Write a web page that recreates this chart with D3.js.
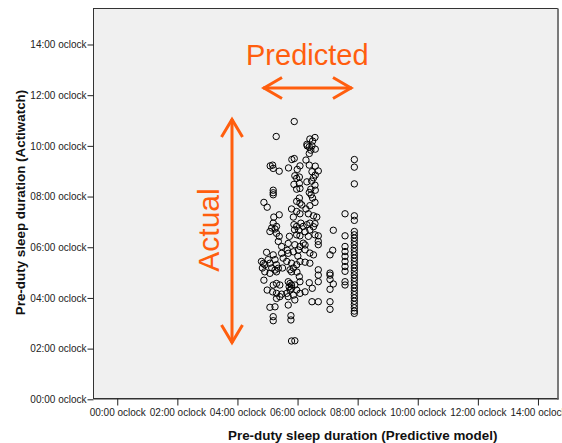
<!DOCTYPE html>
<html>
<head>
<meta charset="utf-8">
<script src="https://d3js.org/d3.v7.min.js"></script>
<style>
  body { margin: 0; background: #fff; }
  svg { display: block; font-family: "Liberation Sans", Arial, sans-serif; }
</style>
</head>
<body>
<div id="wrapper"></div>
<script>
// hours
var predicted = [
  5.89,5.29,6.41,6.58,6.50,6.31,6.39,6.48,6.59,6.44,6.32,6.39,5.81,5.89,6.28,
  5.09,5.17,5.19,5.39,5.70,6.08,6.39,6.59,5.99,6.48,6.69,6.59,6.53,5.91,6.06,5.97,
  6.31,6.47,5.88,6.06,6.58,6.08,5.97,6.44,6.59,6.39,5.19,5.19,7.89,7.89,7.89,
  5.19,4.88,4.99,6.06,6.08,5.97,6.14,6.45,6.50,6.58,6.41,5.80,5.97,6.08,5.86,
  6.28,6.36,6.53,6.64,5.21,5.39,5.19,5.30,5.14,5.08,5.25,5.88,5.97,6.11,6.19,6.31,6.41,6.58,
  5.90,6.04,6.08,5.97,5.73,6.36,6.58,6.69,6.69,6.69,6.41,6.53,5.39,5.36,5.47,
  5.91,6.08,6.19,6.25,6.41,6.53,4.97,5.19,5.02,4.80,4.91,5.08,5.25,5.30,5.14,
  5.52,5.64,5.80,5.97,6.08,5.75,5.86,6.41,6.69,7.08,7.17,7.19,7.08,
  7.58,7.58,7.58,7.58,7.58,7.58,7.58,7.58,7.58,7.58,
  7.89,7.89,7.89,7.89,7.89,7.89,7.89,7.89,7.89,7.89,7.89,7.89,7.89,7.89,
  7.89,7.89,7.89,7.89,7.89,7.89,7.89,7.89,7.89,7.89,7.89,7.89,7.89,7.89,
  4.88,4.91,5.08,5.30,5.19,5.30,5.41,4.99,5.17,5.30,5.47,5.30,5.69,5.80,5.75,5.64,
  5.86,5.91,5.69,5.80,5.75,5.72,6.06,6.08,5.97,6.08,5.80,6.39,6.49,6.69,6.69,
  7.08,7.08,7.19,7.08,6.48,6.69,7.08,7.08,5.08,5.19,5.19,5.78,5.78,5.80,5.91,
  4.86,5.66,6.01,5.50,6.25,5.98,4.83,
  5.25,5.36,5.91,6.25,5.41,5.69,5.25,5.30,6.25,5.69,6.25,5.47,5.69,5.86,6.03
];
var actual = [
  10.96,10.37,10.27,10.33,10.19,10.06,9.96,10.00,9.87,9.83,10.00,9.70,9.46,9.50,9.44,
  9.21,9.24,9.11,9.00,9.13,9.21,9.24,9.20,9.07,8.98,9.01,8.85,8.74,8.82,8.77,8.72,
  8.58,8.61,8.48,8.52,8.45,8.32,8.29,8.29,8.25,8.16,8.25,8.15,9.46,9.16,8.50,
  8.07,7.77,7.58,7.94,7.74,7.81,7.67,8.07,7.94,7.77,7.64,7.51,7.41,7.32,7.19,
  7.51,7.32,7.24,7.19,7.19,7.28,6.95,6.82,6.76,6.62,6.72,6.89,6.82,6.95,6.82,6.89,6.95,6.93,
  6.69,6.67,6.45,6.49,6.43,6.43,6.49,6.45,6.23,6.10,6.68,6.81,6.43,6.23,6.03,
  6.10,6.03,6.16,5.90,5.77,5.70,5.80,5.70,5.51,5.44,5.31,5.37,5.51,5.31,5.18,
  5.57,5.44,5.37,5.31,5.44,5.11,5.18,5.37,5.11,5.70,5.88,6.67,4.98,
  7.32,6.45,6.03,5.83,5.64,5.44,5.24,5.05,4.64,4.51,
  7.24,7.06,6.62,6.49,6.36,6.23,6.10,5.96,5.83,5.70,5.57,5.44,5.31,5.18,
  5.05,4.91,4.78,4.65,4.52,4.39,4.26,4.13,4.00,3.87,3.74,3.61,3.48,3.39,
  4.70,5.03,4.97,5.03,4.51,4.57,4.51,4.31,4.24,4.18,4.15,3.98,4.64,4.51,4.31,4.18,
  4.11,3.92,3.72,4.38,4.57,4.44,4.84,4.64,4.31,4.18,5.03,4.60,4.38,4.90,4.64,
  4.90,4.73,4.55,4.34,3.85,3.85,3.85,3.55,3.63,3.26,3.10,3.30,3.13,2.30,2.31,
  5.36,5.88,5.65,5.18,5.41,5.02,5.18,
  5.10,5.17,4.51,4.24,4.05,4.05,3.65,6.55,6.61,6.15,6.09,5.76,5.76,5.82,5.89
];
var tickHours = [0, 2, 4, 6, 8, 10, 12, 14];
var xTitle = "Pre-duty sleep duration (Predictive model)";
var yTitle = "Pre-duty sleep duration (Actiwatch)";

var orange = "#ff5e0e";
var width = 562, height = 443;
var frame = { left: 93.5, top: 8.5, right: 557.5, bottom: 398.5 };

var dataset = predicted.map(function (d, i) { return { x: d, y: actual[i] }; });

var svg = d3.select("#wrapper").append("svg")
  .attr("width", width)
  .attr("height", height);

var xScale = d3.scaleLinear()
  .domain([-0.79, 14.65])
  .range([frame.left, frame.right]);
var yScale = d3.scaleLinear()
  .domain([0, 15.42])
  .range([399.3, 8.5]);

function fmt(h) { return (h < 10 ? "0" : "") + h + ":00 oclock"; }

// plot frame
svg.append("rect")
  .attr("x", frame.left).attr("y", frame.top)
  .attr("width", frame.right - frame.left)
  .attr("height", frame.bottom - frame.top)
  .attr("fill", "#f0f0f0")
  .attr("stroke", "#333")
  .attr("stroke-width", 1);
svg.append("line")
  .attr("x1", frame.right + 0.5).attr("x2", frame.right + 0.5)
  .attr("y1", frame.top).attr("y2", frame.bottom + 1)
  .attr("stroke", "#7a7a7a").attr("stroke-width", 2);
svg.append("line")
  .attr("x1", frame.left).attr("x2", frame.right + 1)
  .attr("y1", frame.bottom + 0.5).attr("y2", frame.bottom + 0.5)
  .attr("stroke", "#333").attr("stroke-width", 1);

// axes
var yAxis = svg.append("g")
  .attr("transform", "translate(" + frame.left + ",0)")
  .call(d3.axisLeft(yScale).tickValues(tickHours).tickFormat(fmt).tickSize(6).tickPadding(1));
var xAxis = svg.append("g")
  .attr("transform", "translate(0," + frame.bottom + ")")
  .call(d3.axisBottom(xScale).tickValues(tickHours).tickFormat(fmt).tickSize(7).tickPadding(3));
[xAxis, yAxis].forEach(function (a) {
  a.select(".domain").remove();
  a.selectAll(".tick line").attr("stroke", "#222");
  a.selectAll(".tick text")
    .attr("fill", "#222")
    .style("font-size", "10px")
    .style("font-family", "'Liberation Sans', Arial, sans-serif");
});

// titles
svg.append("text")
  .attr("x", 228).attr("y", 440)
  .attr("font-weight", "bold")
  .style("font-size", "13.4px")
  .attr("fill", "#111")
  .text(xTitle);
svg.append("text")
  .attr("transform", "translate(24.5,202.5) rotate(-90)")
  .attr("text-anchor", "middle")
  .attr("font-weight", "bold")
  .style("font-size", "13.4px")
  .attr("fill", "#111")
  .text(yTitle);

// points
svg.append("g").selectAll("circle")
  .data(dataset)
  .enter()
  .append("circle")
  .attr("cx", function (d) { return xScale(d.x); })
  .attr("cy", function (d) { return yScale(d.y); })
  .attr("r", 3.2)
  .attr("fill", "none")
  .attr("stroke", "#000")
  .attr("stroke-width", 1);

// annotations
var ann = svg.append("g")
  .attr("stroke", orange)
  .attr("stroke-width", 3)
  .attr("fill", "none")
  .attr("stroke-linecap", "butt");
ann.append("path").attr("d", "M263,88 H352");
ann.append("path").attr("d", "M282,77.5 L264,88 L282,98.5");
ann.append("path").attr("d", "M333,77.5 L351,88 L333,98.5");
ann.append("path").attr("d", "M232,119 V343");
ann.append("path").attr("d", "M221.5,137 L232,119.5 L242.5,137");
ann.append("path").attr("d", "M221.5,325 L232,342.5 L242.5,325");

svg.append("text")
  .attr("x", 246).attr("y", 65)
  .attr("fill", orange)
  .style("font-size", "29px")
  .text("Predicted");
svg.append("text")
  .attr("transform", "translate(219,230) rotate(-90)")
  .attr("text-anchor", "middle")
  .attr("fill", orange)
  .style("font-size", "30px")
  .text("Actual");
</script>
</body>
</html>
